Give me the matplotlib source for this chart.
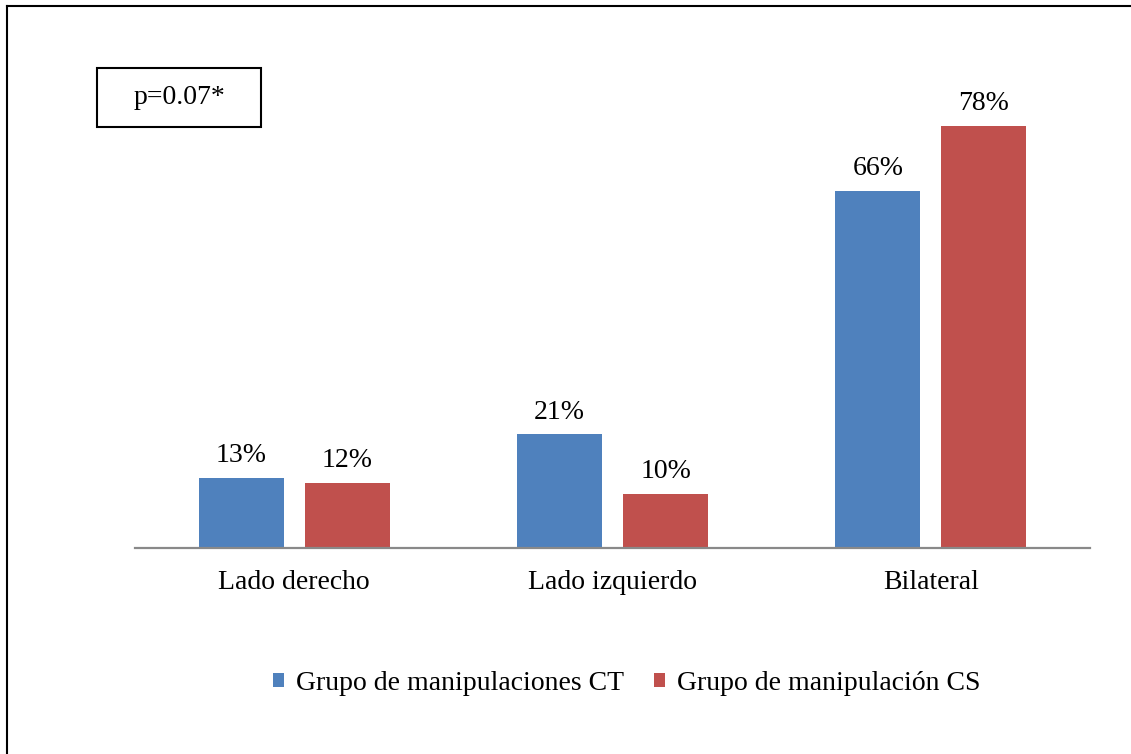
import numpy as np
import matplotlib
import matplotlib.pyplot as plt
from matplotlib.patches import Rectangle, Patch
from matplotlib.lines import Line2D

matplotlib.use('Agg')

categories = ['Lado derecho', 'Lado izquierdo', 'Bilateral']
grupo_ct = [13, 21, 66]
grupo_cs = [12, 10, 78]
series_names = ['Grupo de manipulaciones CT', 'Grupo de manipulación CS']

plt.rcParams['font.family'] = ['Liberation Serif', 'DejaVu Serif']

fig = plt.figure(figsize=(11.31, 7.54), dpi=100)
ax = fig.add_axes([0.1194, 0.2732, 0.8444, 0.6459])

x = np.arange(len(categories))
width = 0.267
offset = 0.1665

bars_ct = ax.bar(x - offset, grupo_ct, width, color='#4F81BD')
bars_cs = ax.bar(x + offset, grupo_cs, width, color='#C0504D')

# etiquetas de valores encima de las barras
ax.bar_label(bars_ct, labels=[f'{v}%' for v in grupo_ct], padding=7, fontsize=20)
ax.bar_label(bars_cs, labels=[f'{v}%' for v in grupo_cs], padding=7, fontsize=20)

ax.set_xlim(-0.5, 2.5)
ax.set_ylim(0, 90)
ax.set_xticks(x)
ax.set_xticklabels(categories, fontsize=20)
ax.tick_params(axis='x', length=0, pad=16)
ax.set_yticks([])
for side in ['top', 'right', 'left']:
    ax.spines[side].set_visible(False)
ax.spines['bottom'].set_color('#898989')
ax.spines['bottom'].set_linewidth(1.6)

# cuadro con el valor p
fig.add_artist(Rectangle((97 / 1131, 1 - 127 / 754), 164 / 1131, 59 / 754,
                         transform=fig.transFigure, fill=False,
                         edgecolor='black', linewidth=1.5))
fig.text(179 / 1131, 1 - 97 / 754, 'p=0.07*', ha='center', va='center', fontsize=20)

# marco exterior (solo se ven los bordes superior e izquierdo)
fig.add_artist(Line2D([7 / 1131, 7 / 1131], [0, 1 - 6 / 754],
                      transform=fig.transFigure, color='black', linewidth=1.5))
fig.add_artist(Line2D([7 / 1131, 1], [1 - 6 / 754, 1 - 6 / 754],
                      transform=fig.transFigure, color='black', linewidth=1.5))

handles = [Patch(facecolor='#4F81BD'), Patch(facecolor='#C0504D')]
fig.legend(handles, series_names, loc='center', bbox_to_anchor=(627 / 1131, 1 - 683 / 754),
           ncol=2, frameon=False, fontsize=20, handlelength=0.4, handleheight=0.4,
           handletextpad=0.43, columnspacing=1.07, borderaxespad=0)

plt.savefig('out.png', dpi=100)
